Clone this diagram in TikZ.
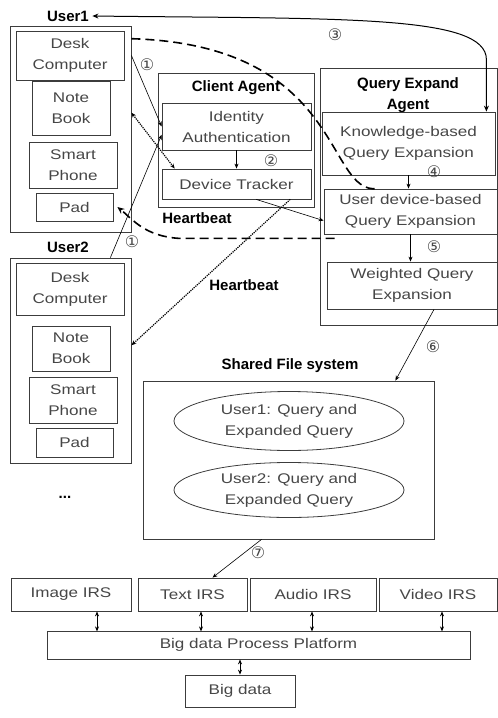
\documentclass[tikz,border=0pt]{standalone}
\usepackage{fontspec}
\setmainfont{Liberation Sans}
\newfontfamily\boxfont[FakeStretch=1.22]{Liberation Sans}
\newfontfamily\circfont{DejaVu Sans}
\usetikzlibrary{arrows.meta, shapes.geometric, calc}
\definecolor{BoxLine}{RGB}{60,60,60}
\definecolor{BoxText}{RGB}{70,70,70}

\begin{document}
\begin{tikzpicture}[x=1pt,y=-1pt,
    box/.style={draw=BoxLine, line width=0.8pt, text=BoxText, inner sep=0pt,
      font=\boxfont\fontsize{14}{21}\selectfont, align=center},
    titletext/.style={font=\bfseries\fontsize{15}{21}\selectfont, align=center},
    num/.style={font=\circfont\fontsize{16}{16}\selectfont, text=BoxText},
    arr/.style={-{Stealth[length=5pt,width=4pt]}, line width=0.6pt},
    darr/.style={{Stealth[length=5pt,width=4pt]}-{Stealth[length=5pt,width=4pt]}, line width=0.8pt},
    hb/.style={dash pattern=on 9pt off 5pt, line width=1.6pt}]
  \useasboundingbox (0,0) rectangle (498,718);

  % users and their devices
  \node[box, minimum width=121pt, minimum height=206pt] (user1) at (70.5,129) {};
  \node[titletext] (u1lbl) at (68,16) {User1};
  \node[box, minimum width=108pt, minimum height=49pt] (desk1) at (70,55.5) {Desk\\Computer};
  \node[box, minimum width=78pt, minimum height=54pt] (note1) at (71,108) {Note\\Book};
  \node[box, minimum width=88pt, minimum height=46pt] (smart1) at (73,165) {Smart\\Phone};
  \node[box, minimum width=77pt, minimum height=28pt] (pad1) at (74.5,207) {Pad};

  \node[box, minimum width=121pt, minimum height=205pt] (user2) at (70.5,360.5) {};
  \node[titletext] (u2lbl) at (68,247) {User2};
  \node[box, minimum width=108pt, minimum height=52pt] (desk2) at (70,289) {Desk\\Computer};
  \node[box, minimum width=78pt, minimum height=45pt] (note2) at (71,348.5) {Note\\Book};
  \node[box, minimum width=88pt, minimum height=46pt] (smart2) at (73,400) {Smart\\Phone};
  \node[box, minimum width=77pt, minimum height=29pt] (pad2) at (74.5,442.5) {Pad};
  \node[titletext] (more) at (65,497) {...};

  % client agent
  \node[box, minimum width=156pt, minimum height=134pt] (client) at (236,140) {};
  \node[titletext] (clientlbl) at (236,88) {Client Agent};
  \node[box, minimum width=149pt, minimum height=47pt] (ident) at (236.5,126.5) {Identity\\Authentication};
  \node[box, minimum width=149pt, minimum height=30pt] (tracker) at (236.5,184) {Device Tracker};

  % query expand agent
  \node[box, minimum width=177pt, minimum height=257pt] (qea) at (408.5,196.5) {};
  \node[titletext] (qealbl) at (408,95.5) {Query Expand\\Agent};
  \node[box, minimum width=173pt, minimum height=63pt] (know) at (408.5,143.5) {Knowledge-based\\Query Expansion};
  \node[box, minimum width=173pt, minimum height=45pt] (udev) at (410.5,211.5) {User device-based\\Query Expansion};
  \node[box, minimum width=170pt, minimum height=47pt] (weight) at (412,285.5) {Weighted Query\\Expansion};

  % shared file system
  \node[box, minimum width=291pt, minimum height=158pt] (sfs) at (288.5,460) {};
  \node[titletext] (sfslbl) at (290,366) {Shared File system};
  \node[box, ellipse, minimum width=230pt, minimum height=59pt] (q1) at (289,421) {User1: Query and\\Expanded Query};
  \node[box, ellipse, minimum width=230pt, minimum height=55pt] (q2) at (289,490) {User2: Query and\\Expanded Query};

  % retrieval systems and platform
  \node[box, minimum width=120pt, minimum height=33pt] (img) at (71,594.5) {Image IRS};
  \node[box, minimum width=109pt, minimum height=33pt] (txt) at (192.5,594.5) {Text IRS};
  \node[box, minimum width=126pt, minimum height=33pt] (aud) at (313,594.5) {Audio IRS};
  \node[box, minimum width=118pt, minimum height=33pt] (vid) at (438,594.5) {Video IRS};
  \node[box, minimum width=423pt, minimum height=28pt] (bdpp) at (258.5,645) {Big data Process Platform};
  \node[box, minimum width=110pt, minimum height=32pt] (bd) at (240,691) {Big data};

  % heartbeat
  \node[titletext] (hb1) at (197,218) {Heartbeat};
  \node[titletext] (hb2) at (244,285) {Heartbeat};
  \draw[hb] (user1.56) .. controls (345,45) and (325,195) .. ($(udev.north west)+(54,0)$);
  \draw[hb, -{Stealth[length=7pt,width=6pt]}] ($(udev.south west)+(11,4)$) -- ++(-155,0)
    .. controls +(-35,-2) and +(15,12) .. ($(pad1.east)+(4,0)$);
  \draw[densely dotted, line width=1.2pt, {Stealth[length=5pt,width=4pt]}-{Stealth[length=5pt,width=4pt]}]
    (user1.15) -- (tracker.166);
  \draw[densely dotted, line width=1.2pt, -{Stealth[length=5pt,width=4pt]}]
    (tracker.-16) -- (user2.14);

  % numbered steps
  \draw[arr] (user1.east |- desk1.east) -- (ident.west);
  \node[num] (n1a) at (147,65) {①};
  \draw[arr] (note2.east |- user2.north) -- ($(ident.west)!0.35!(ident.south west)$);
  \node[num] (n1b) at (132,242) {①};
  \draw[arr] (ident.south) -- (tracker.north);
  \node[num] (n2) at (271,161) {②};
  \draw[{Stealth[length=6pt,width=5pt]}-{Stealth[length=6pt,width=5pt]}, line width=1pt]
    (u1lbl.east) .. controls +(250,3) and +(0,-45) .. ($(know.north east)+(-9,-52)$)
    -- ($(know.north east)+(-9,0)$);
  \node[num] (n3) at (335,35) {③};
  \draw[arr] (know.south) -- (know.south |- udev.north);
  \node[num] (n4) at (434,172) {④};
  \draw[arr] (tracker.-38) -- (udev.186);
  \draw[arr] (udev.south) -- (udev.south |- weight.north);
  \node[num] (n5) at (434,247) {⑤};
  \draw[arr] ($(weight.south)+(22,0)$) -- ($(sfs.north east)+(-39,0)$);
  \node[num] (n6) at (433,347) {⑥};
  \draw[arr] ($(sfs.south)+(-27,0)$) -- ($(txt.north)+(20,0)$);
  \node[num] (n7) at (258,553) {⑦};

  \foreach \n/\d in {img/26,txt/8.5,aud/-1,vid/4}
    \draw[darr] ($(\n.south)+(\d,0)$) -- ++(0,20);
  \draw[darr] (bd.north |- bdpp.south) -- (bd.north);
\end{tikzpicture}
\end{document}
